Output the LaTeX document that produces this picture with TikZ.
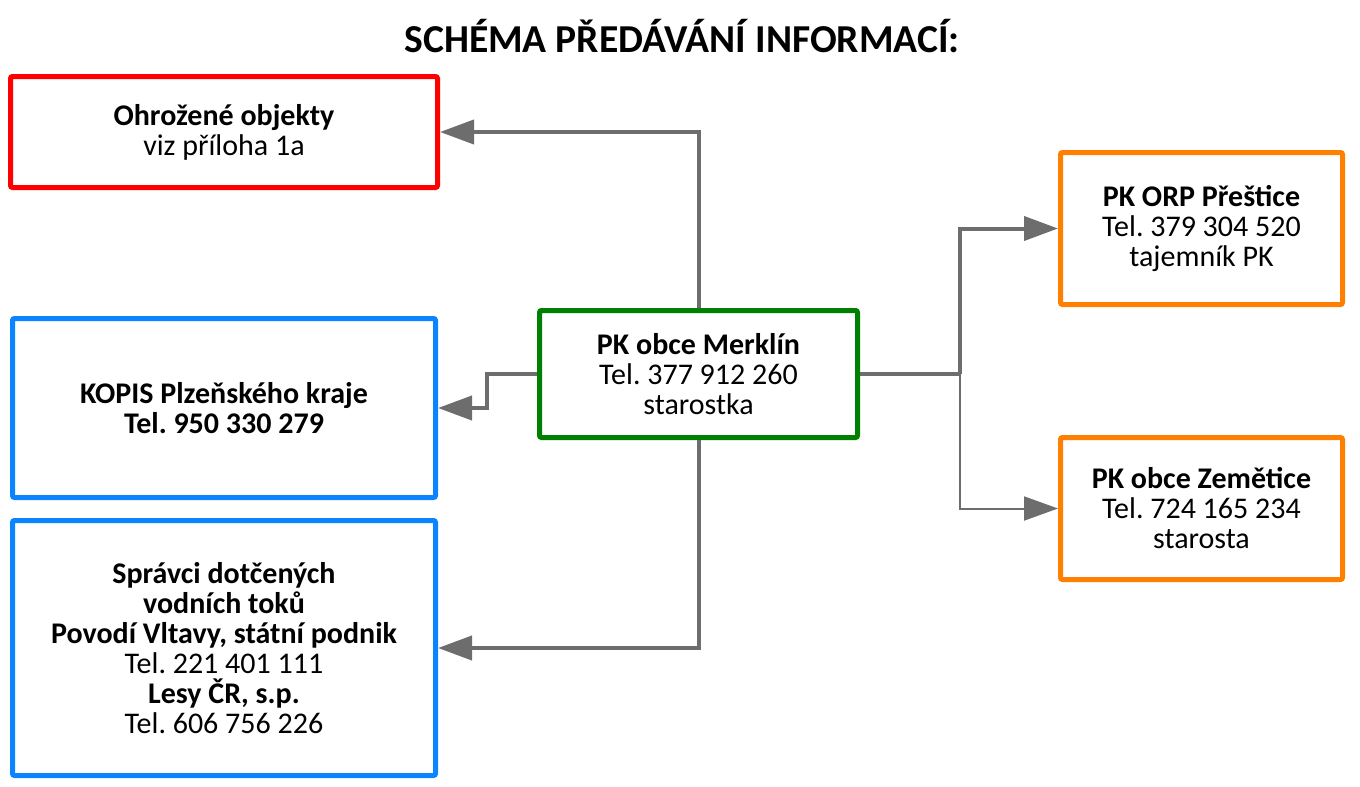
\documentclass[tikz,border=0pt]{standalone}
\usepackage{fontspec}
\setmainfont{Carlito}
\usepackage{tikz}
\usetikzlibrary{arrows.meta}
\definecolor{cervena}{HTML}{FF0000}
\definecolor{modra}{HTML}{0A84FF}
\definecolor{zelena}{HTML}{008000}
\definecolor{oranzova}{HTML}{FF8000}
\definecolor{seda}{HTML}{6D6D6D}
\frenchspacing

\begin{document}
\begin{tikzpicture}[x=0.5pt,y=-0.5pt,
  box/.style={draw,line width=2.5pt,fill=white,align=center,inner sep=0pt,
    rounded corners=1pt,font=\fontsize{15}{15}\selectfont},
  conn/.style={draw=seda,line width=2pt,-{Triangle[length=17pt,width=12pt]}}]
\useasboundingbox (0,0) rectangle (1360,787);
\node[font=\fontsize{19.8}{22}\selectfont\bfseries] (nadpis) at (682,36) {SCHÉMA PŘEDÁVÁNÍ INFORMACÍ:};
% levy sloupec
\node[box,draw=cervena,minimum width=213.5pt,minimum height=55.5pt] (ohrozene) at (224,132)
  {\textbf{Ohrožené objekty}\\viz příloha 1a};
\node[box,draw=modra,minimum width=211.5pt,minimum height=89.5pt] (kopis) at (224,408)
  {\textbf{KOPIS Plzeňského kraje}\\\textbf{Tel. 950 330 279}};
\node[box,draw=modra,minimum width=211.5pt,minimum height=127.5pt] (spravci) at (224,648)
  {\textbf{Správci dotčených}\\\textbf{vodních toků}\\\textbf{Povodí Vltavy, státní podnik}\\Tel. 221 401 111\\\textbf{Lesy ČR, s.p.}\\Tel. 606 756 226};
% stred
\node[box,draw=zelena,minimum width=159pt,minimum height=63.5pt] (merklin) at (698.5,374)
  {\textbf{PK obce Merklín}\\Tel. 377 912 260\\starostka};
% pravy sloupec
\node[box,draw=oranzova,minimum width=141pt,minimum height=76pt] (orp) at (1201.5,228.5)
  {\textbf{PK ORP Přeštice}\\Tel. 379 304 520\\tajemník PK};
\node[box,draw=oranzova,minimum width=141pt,minimum height=71pt] (zemetice) at (1201.5,508.5)
  {\textbf{PK obce Zemětice}\\Tel. 724 165 234\\starosta};
% spojnice
\coordinate (rozc) at (960,374);
\draw[conn] (merklin.north) |- (ohrozene.east);
\draw[conn] (merklin.west) -- ++(-50,0) |- (kopis.east);
\draw[conn] (merklin.south) |- (spravci.east);
\draw[draw=seda,line width=2pt] (merklin.east) -- (rozc);
\draw[conn] (rozc) |- (orp.west);
\draw[conn,line width=1pt] (rozc) |- (zemetice.west);
\end{tikzpicture}
\end{document}
